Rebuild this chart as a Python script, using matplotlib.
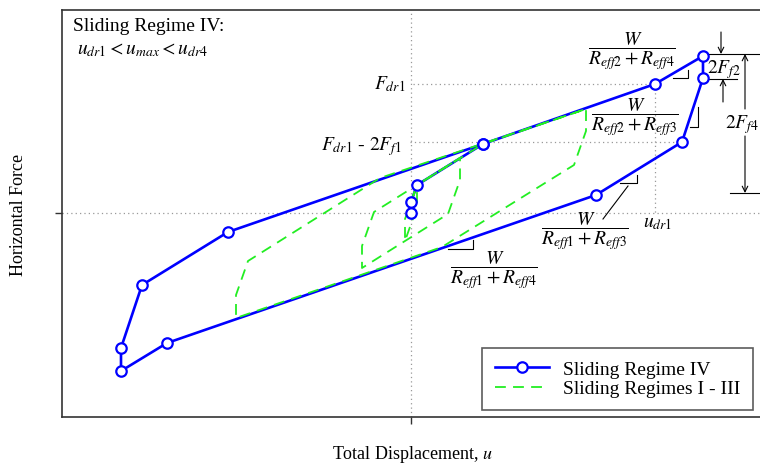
import matplotlib
matplotlib.use("Agg")
import matplotlib.pyplot as plt
from matplotlib.lines import Line2D

plt.rcParams['font.family'] = ['Liberation Serif', 'DejaVu Serif']
plt.rcParams['mathtext.fontset'] = 'stix'

# -------------------------------
# data (arbitrary units, origin at u = 0, F = 0)
# -------------------------------
# Sliding Regime IV loop
blue_x = [0, 0, 6, 72, 244, 292, 292, 271, 185, -244, -290, -290, -269, -183, 72]
blue_y = [0, 11, 28, 69, 129, 157, 135, 71, 18, -130, -158, -135, -72, -19, 69]

# Sliding Regimes I - III loops
loop1_x = [0, 0, 6, 6, -6, -6, 6]
loop1_y = [0, 11, 28, 6, -28, -6, 28]
loop2_x = [0, 0, 6, 49, 49, 37, -49, -49, -37, 49]
loop2_y = [0, 11, 28, 55, 33, -1, -55, -33, 1, 55]
loop3_x = [0, 0, 6, 72, 175, 175, 163, 31, -175, -175, -163, -31, 175]
loop3_y = [0, 11, 28, 69, 104, 82, 48, -34, -105, -82, -48, 35, 104]

F_dr1 = 129
F_dr1_2Ff1 = 71
u_dr1 = 244
F_top = 157      # peak force
F_drop = 134     # after 2F_f2 drop
F_low = 20       # bottom of 2F_f4

# -------------------------------
# figure
# -------------------------------
fig = plt.figure(figsize=(7.6, 4.64), dpi=100)
ax = fig.add_axes([62 / 760, 46 / 464, 700 / 760, 407 / 464])
ax.set_xlim(-349, 351)
ax.set_ylim(-204, 203)

for s in ax.spines.values():
    s.set_color('#333333')
    s.set_linewidth(1.2)
ax.set_xticks([0])
ax.set_yticks([0])
ax.set_xticklabels([''])
ax.set_yticklabels([''])
ax.tick_params(direction='out', length=5, width=1, color='#333333')

# dotted guides
dot = dict(color='#999999', ls=(0, (1, 2.5)), lw=0.9, zorder=1)
ax.axhline(0, **dot)
ax.axvline(0, **dot)
ax.plot([2, u_dr1], [F_dr1, F_dr1], **dot)
ax.plot([u_dr1, u_dr1], [F_dr1, -2], **dot)
ax.plot([-1, 272], [F_dr1_2Ff1, F_dr1_2Ff1], **dot)

# loops
ax.plot(blue_x, blue_y, color='#0000ff', lw=1.9, zorder=3)
green = dict(color='#22ee22', lw=1.3, dashes=(6, 4), zorder=4)
ax.plot(loop1_x, loop1_y, **green)
ax.plot(loop2_x, loop2_y, **green)
ax.plot(loop3_x, loop3_y, **green)
ax.plot(blue_x, blue_y, ls='none', marker='o', ms=7.5, mfc='white',
        mec='#0000ff', mew=1.6, zorder=5)

# dimension lines on the right
k = dict(color='black', lw=0.8, zorder=2)
ax.plot([296, 351], [F_top + 2, F_top + 2], clip_on=False, **k)
ax.plot([296, 326], [F_drop, F_drop], **k)
ax.plot([319, 351], [F_low, F_low], clip_on=False, **k)
arr = dict(arrowstyle='->', color='black', lw=0.8, shrinkA=0, shrinkB=0)
ax.annotate('', xy=(310, F_top + 2), xytext=(310, 181), arrowprops=arr)
ax.annotate('', xy=(312, F_drop), xytext=(312, 111), arrowprops=arr)
ax.annotate('', xy=(334, F_top + 2), xytext=(334, 104), arrowprops=arr, annotation_clip=False)
ax.annotate('', xy=(334, F_low), xytext=(334, 77), arrowprops=arr, annotation_clip=False)
ax.text(313, 144, r'$2F_{f2}$', fontsize=14, ha='center', va='center')
ax.text(331, 89, r'$2F_{f4}$', fontsize=14, ha='center', va='center')

# slope markers
ax.plot([262, 277, 277], [135, 135, 143], **k)
ax.plot([279, 287, 287], [86, 86, 106], **k)
ax.plot([209, 226, 226], [30, 30, 38], **k)
ax.plot([192, 217], [-6, 27], **k)
ax.plot([37, 62, 62], [-36, -36, -27], **k)

# labels
fs = 14
ax.text(221, 163, r'$\dfrac{W}{R_{eff2}+R_{eff4}}$', fontsize=fs, ha='center', va='center')
ax.text(224, 97, r'$\dfrac{W}{R_{eff2}+R_{eff3}}$', fontsize=fs, ha='center', va='center')
ax.text(174, -17, r'$\dfrac{W}{R_{eff1}+R_{eff3}}$', fontsize=fs, ha='center', va='center')
ax.text(83, -56, r'$\dfrac{W}{R_{eff1}+R_{eff4}}$', fontsize=fs, ha='center', va='center')
ax.text(-6, 125, r'$F_{dr1}$', fontsize=fs, ha='right', va='baseline')
ax.text(-9, 64, r'$F_{dr1}$ - $2F_{f1}$', fontsize=fs, ha='right', va='baseline')
ax.text(232, -13, r'$u_{dr1}$', fontsize=fs, ha='left', va='baseline')

ax.text(-338, 187, 'Sliding Regime IV:', fontsize=14, ha='left', va='center')
ax.text(-334, 164, r'$u_{dr1} < u_{max} < u_{dr4}$', fontsize=14, ha='left', va='center')

ax.set_xlabel('Total Displacement, $u$', fontsize=13)
ax.set_ylabel('Horizontal Force', fontsize=13)
ax.xaxis.set_label_coords(0.5, -0.064)
ax.yaxis.set_label_coords(-0.05, 0.5)

handles = [Line2D([], [], color='#0000ff', lw=1.9, marker='o', ms=7.5, mfc='white',
                  mec='#0000ff', mew=1.6),
           Line2D([], [], color='#22ee22', lw=1.3, dashes=(6, 4))]
leg = ax.legend(handles, ['Sliding Regime IV', 'Sliding Regimes I - III'],
                loc='lower right', bbox_to_anchor=(0.987, 0.017), fontsize=14,
                frameon=True, fancybox=False, edgecolor='#333333',
                handlelength=2.8, handletextpad=0.7, labelspacing=0.1,
                borderpad=0.65, borderaxespad=0)
leg.get_frame().set_linewidth(1.2)

fig.savefig('out.png', dpi=100)
